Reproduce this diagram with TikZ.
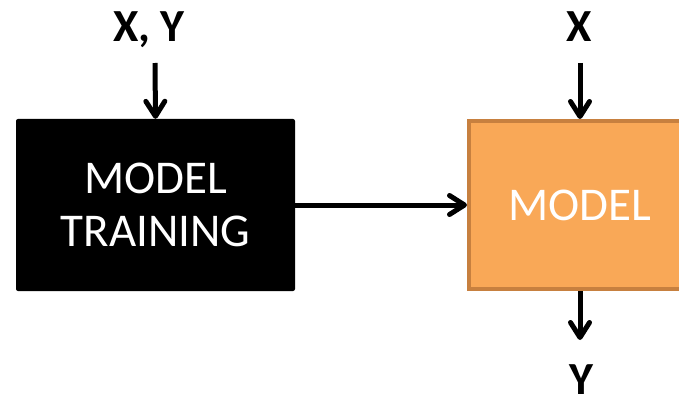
\documentclass[tikz,border=0pt]{standalone}
\usepackage{fontspec}
\setmainfont{Carlito}
\usetikzlibrary{arrows.meta}
\definecolor{modelfill}{HTML}{F9A857}
\definecolor{modeledge}{HTML}{C7803F}
\tikzset{
  flow/.style={line width=5pt, -{Straight Barb[length=15pt,width=19pt,line cap=round,line join=round]}},
  trainbox/.style={fill=black, rounded corners=2pt, minimum width=279pt, minimum height=172pt,
    text=white, align=center, font=\fontsize{47}{55}\selectfont, inner sep=0pt},
  modelbox/.style={fill=modelfill, draw=modeledge, line width=4pt, minimum width=222pt, minimum height=168pt,
    text=white, align=center, font=\fontsize{47}{55}\selectfont, inner sep=0pt},
  lbl/.style={font=\bfseries\fontsize{46}{55}\selectfont, inner sep=0pt, anchor=base}
}
\begin{document}
\begin{tikzpicture}[x=1pt,y=-1pt]
  \useasboundingbox (0,0) rectangle (679,398);
  \clip (0,0) rectangle (679,398);
  % the two blocks
  \node[trainbox] (train) at (155.5,205) {MODEL\\[-2pt]TRAINING};
  \node[modelbox] (model) at (580,205) {\raisebox{-5pt}{MODEL}};
  % input and output labels
  \node[lbl] (xy) at (149,42) {X, Y};
  \node[lbl] (xin) at (579,42) {X};
  \node[lbl] (yout) at (581,394) {Y};
  % free ends of the connectors
  \coordinate (xyin) at (155,63);
  \coordinate (xtop) at (580,63);
  \coordinate (yend) at (580,340);
  % connectors
  \draw[flow] (xyin) -- (train.north);
  \draw[flow] (xtop) -- (xtop |- model.north);
  \draw[flow] (train.east) -- (model.west);
  \draw[flow] (model.south -| yend) -- (yend);
\end{tikzpicture}
\end{document}
